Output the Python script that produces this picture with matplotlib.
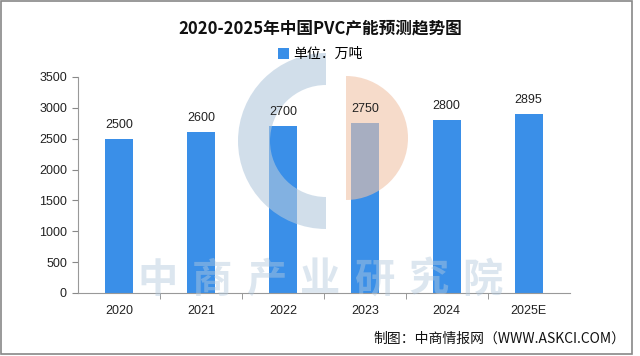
import matplotlib
matplotlib.use("Agg")
from matplotlib import pyplot as plt
from matplotlib.patches import Wedge, Rectangle
from matplotlib.transforms import Affine2D

years = ["2020", "2021", "2022", "2023", "2024", "2025E"]
capacity = [2500, 2600, 2700, 2750, 2800, 2895]
y_ticks = [0, 500, 1000, 1500, 2000, 2500, 3000, 3500]

title = "2020-2025年中国PVC产能预测趋势图"
legend_label = "单位：万吨"
source = "制图：中商情报网（WWW.ASKCI.COM）"
watermark = "中商产业研究院"

bar_color = "#3a8fe8"
cjk = ["Noto Sans CJK SC", "DejaVu Sans"]
num_font = ["Liberation Sans", "Noto Sans CJK SC"]

plt.rcParams["font.family"] = cjk

fig = plt.figure(figsize=(6.4, 3.56), dpi=100)
fig.patch.set_facecolor("white")
# pixel coordinates from the top-left corner
px = Affine2D().scale(1 / 640, -1 / 356).translate(0, 1) + fig.transFigure

ax = fig.add_axes([0.122, 0.177, 0.768, 0.607])
x = list(range(len(years)))
bars = ax.bar(x, capacity, width=0.34, color=bar_color, label=legend_label, zorder=2)

for xi, v in zip(x, capacity):
    ax.text(xi, v + 130, str(v), ha="center", va="bottom", fontsize=9,
            family=num_font, color="#222222", zorder=6)

ax.set_xlim(-0.5, len(years) - 0.5)
ax.set_ylim(0, 3500)
ax.set_yticks(y_ticks)
ax.set_yticklabels([str(t) for t in y_ticks], family=num_font, fontsize=9, color="#222222")
ax.set_xticks(x)
ax.set_xticklabels(years, family=num_font, fontsize=9, color="#222222")
ax.tick_params(axis="x", length=0, pad=9)
ax.set_xticks([i + 0.5 for i in x[:-1]], minor=True)
ax.tick_params(axis="x", which="minor", length=4, color="#888888", direction="out")
ax.tick_params(axis="y", length=4, color="#888888", pad=4)
for s in ["top", "right"]:
    ax.spines[s].set_visible(False)
ax.spines["left"].set_color("#999999")
ax.spines["bottom"].set_color("#999999")
ax.set_facecolor("none")

fig.text(0.5, 0.921, title, ha="center", va="center", fontsize=12,
         fontweight="bold", color="#111111")
fig.legend(handles=[bars], labels=[legend_label], loc="center",
           bbox_to_anchor=(0.5, 0.848), frameon=False, fontsize=10,
           handlelength=0.8, handleheight=0.8, handletextpad=0.3)
fig.text(0.977, 0.05, source, ha="right", va="center", fontsize=10, color="#111111")

# watermark logo, above the bars but under the value labels
wm_blue = "#b3c9dd"
wm_orange = "#f1c3a8"
ax.add_patch(Wedge((326, 141), 88, 90, 270, width=32, color=wm_blue, alpha=0.6,
                   lw=0, transform=px, clip_on=False, zorder=3))
ax.add_patch(Wedge((346, 138), 62, -90, 90, color=wm_orange, alpha=0.6,
                   lw=0, transform=px, clip_on=False, zorder=3))
for i, ch in enumerate(watermark):
    ax.text(158 + 54 * i, 280, ch, ha="center", va="center", fontsize=29,
            fontweight="bold", color=wm_blue, alpha=0.45, transform=px,
            clip_on=False, zorder=3)

fig.add_artist(Rectangle((1, 1), 631, 353, fill=False, edgecolor="#888888",
                         lw=1.2, transform=px))

fig.savefig("out.png", dpi=100)
